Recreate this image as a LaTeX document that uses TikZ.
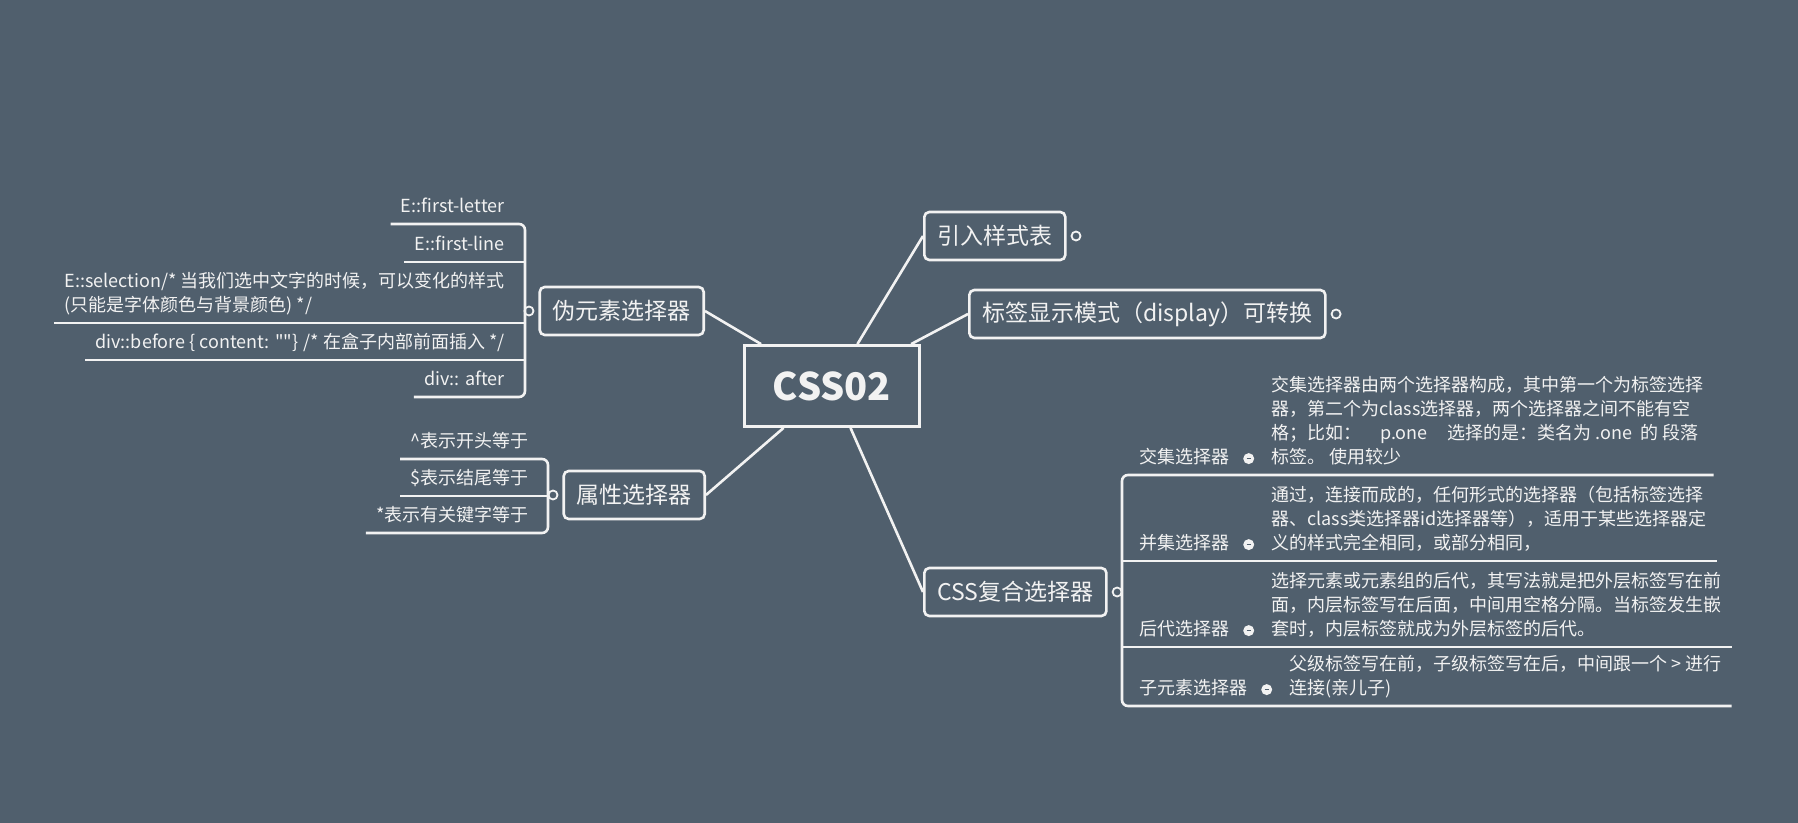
\documentclass[tikz,border=0pt]{standalone}
\usepackage{fontspec}
\setmainfont{Noto Sans CJK SC}
\usetikzlibrary{positioning}
\definecolor{bgc}{RGB}{80,95,109}
\definecolor{fgc}{RGB}{242,242,242}
\tikzset{
  root/.style={draw=fgc, line width=1.4pt, fill=bgc, text=fgc, font=\fontsize{19pt}{22pt}\selectfont\bfseries, minimum width=87.5pt, minimum height=40.5pt},
  topic/.style={draw=fgc, line width=1.3pt, rounded corners=2.5pt, fill=bgc, text=fgc, font=\fontsize{11.5pt}{14pt}\selectfont, inner xsep=6.5pt, minimum height=24pt},
  ring/.style={circle, draw=fgc, fill=bgc, line width=0.9pt, inner sep=0pt, minimum size=4.5pt},
  bullet/.style={circle, fill=fgc, inner sep=0pt, minimum size=5.5pt,
    path picture={\draw[bgc, line width=0.5pt] ([xshift=1.7pt]path picture bounding box.west) -- ([xshift=-1.7pt]path picture bounding box.east);}},
  leaf/.style={text=fgc, font=\fontsize{9pt}{12pt}\selectfont, inner xsep=5pt, inner ysep=3.5pt, text depth=2pt},
  sublbl/.style={leaf, text height=7pt},
  ln/.style={draw=fgc, line width=1.3pt},
}
\begin{document}
\begin{tikzpicture}[x=0.5pt, y=-0.5pt]
  \fill[bgc] (0,0) rectangle (1798,823);
  \useasboundingbox (0,0) rectangle (1798,823);

  % centre and main topics
  \node[root] (css) at (832,386) {CSS02};
  \node[topic, anchor=west] (yinru) at (923,236) {引入样式表};
  \node[topic, anchor=west] (biaoqian) at (968,314) {标签显示模式（display）可转换};
  \node[topic, anchor=west] (fuhe) at (923,592) {CSS复合选择器};
  \node[topic, anchor=east] (weiyuan) at (705,311) {伪元素选择器};
  \node[topic, anchor=east] (shuxing) at (706,495) {属性选择器};

  \node[ring, right=2pt of yinru] (yinrud) {};
  \node[ring, right=2pt of biaoqian] (biaoqiand) {};
  \node[ring, right=2pt of fuhe] (fdot) {};
  \node[ring, left=2pt of weiyuan] (wdot) {};
  \node[ring, left=2pt of shuxing] (sdot) {};

  \draw[ln] (yinru.west) -- (css);
  \draw[ln] (biaoqian.west) -- (css);
  \draw[ln] (fuhe.west) -- (css);
  \draw[ln] (weiyuan.east) -- (css);
  \draw[ln] (shuxing.east) -- (css);

  % bracket lines
  \coordinate (wbk) at (525,0);
  \coordinate (sbk) at (548,0);
  \coordinate (fbk) at (1122,0);

  % pseudo elements
  \node[leaf, anchor=south east] (w1) at (515,224) {E::first-letter};
  \node[leaf, anchor=south east] (w2) at (515,262) {E::first-line};
  \node[leaf, anchor=south east] (w3) at (515,323) {\begin{tabular}[b]{@{}l@{}}E::selection/* 当我们选中文字的时候，可以变化的样式\\
    (只能是字体颜色与背景颜色) */\end{tabular}};
  \node[leaf, anchor=south east] (w4) at (515,360) {div::before \{ content: \textquotedbl\textquotedbl\} /* 在盒子内部前面插入 */};
  \node[leaf, anchor=south east] (w5) at (515,397) {div:: after};
  \draw[ln, rounded corners=3pt] (w1.south west) -- (w1.south west -| wbk) -- (w5.south west -| wbk) -- (w5.south west);
  \foreach \n in {w2,w3,w4}
    \draw[ln] (\n.south west) -- (\n.south west -| wbk);
  \draw[ln] (wdot) -- (wdot -| wbk);

  % attribute selectors
  \node[leaf, anchor=south east] (a1) at (539,459) {\textasciicircum 表示开头等于};
  \node[leaf, anchor=south east] (a2) at (539,496) {\$表示结尾等于};
  \node[leaf, anchor=south east] (a3) at (539,533) {*表示有关键字等于};
  \draw[ln, rounded corners=3pt] (a1.south west) -- (a1.south west -| sbk) -- (a3.south west -| sbk) -- (a3.south west);
  \draw[ln] (a2.south west) -- (a2.south west -| sbk);
  \draw[ln] (sdot) -- (sdot -| sbk);

  % compound selectors
  \node[sublbl, anchor=south west] (c1) at (1129,475) {交集选择器};
  \node[bullet, right=1.5pt of c1] (c1d) {};
  \node[leaf, right=10.5pt of c1.south east, anchor=south west] (c1x) {\begin{tabular}[b]{@{}l@{}}交集选择器由两个选择器构成，其中第一个为标签选择\\
    器，第二个为class选择器，两个选择器之间不能有空\\
    格；比如：\hspace{1.05em}p.one\hspace{1.1em}选择的是：类名为 .one\ \ 的 段落\\
    标签。 使用较少\end{tabular}};

  \node[sublbl, anchor=south west] (c2) at (1129,561) {并集选择器};
  \node[bullet, right=1.5pt of c2] (c2d) {};
  \node[leaf, right=10.5pt of c2.south east, anchor=south west] (c2x) {\begin{tabular}[b]{@{}l@{}}通过，连接而成的，任何形式的选择器（包括标签选择\\
    器、class类选择器id选择器等），适用于某些选择器定\\
    义的样式完全相同，或部分相同，\end{tabular}};

  \node[sublbl, anchor=south west] (c3) at (1129,647) {后代选择器};
  \node[bullet, right=1.5pt of c3] (c3d) {};
  \node[leaf, right=10.5pt of c3.south east, anchor=south west] (c3x) {\begin{tabular}[b]{@{}l@{}}选择元素或元素组的后代，其写法就是把外层标签写在前\\
    面，内层标签写在后面，中间用空格分隔。当标签发生嵌\\
    套时，内层标签就成为外层标签的后代。\end{tabular}};

  \node[sublbl, anchor=south west] (c4) at (1129,706) {子元素选择器};
  \node[bullet, right=1.5pt of c4] (c4d) {};
  \node[leaf, right=10.5pt of c4.south east, anchor=south west] (c4x) {\begin{tabular}[b]{@{}l@{}}父级标签写在前，子级标签写在后，中间跟一个 > 进行\\
    连接(亲儿子)\end{tabular}};

  \draw[ln, rounded corners=3pt] (c1x.south east) -- (c1.south west -| fbk) -- (c4.south west -| fbk) -- (c4x.south east);
  \draw[ln] (c2.south west -| fbk) -- (c2x.south east);
  \draw[ln] (c3.south west -| fbk) -- (c3x.south east);
  \draw[ln] (fdot) -- (fdot -| fbk);
\end{tikzpicture}
\end{document}
